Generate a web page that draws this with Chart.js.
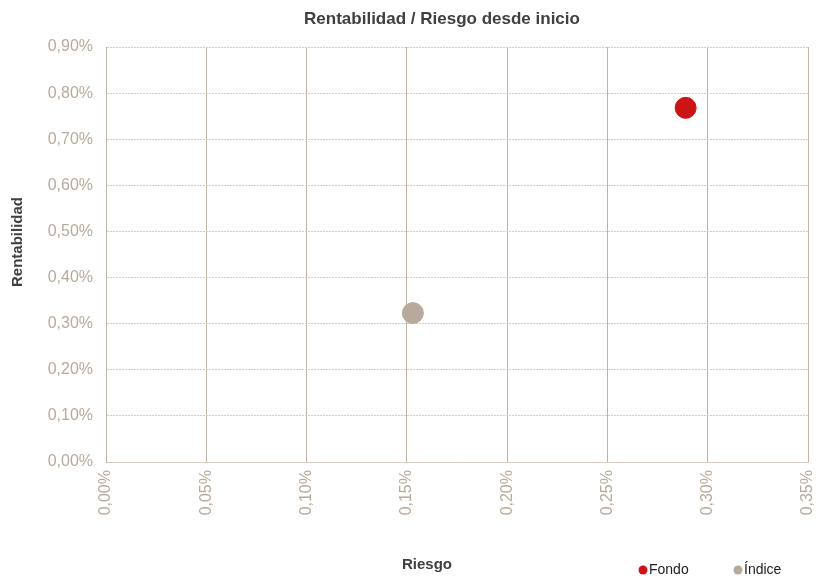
<!DOCTYPE html>
<html lang="es">
<head>
    <meta charset="UTF-8">
    <title>Rentabilidad / Riesgo desde inicio</title>
    <script src="https://cdn.jsdelivr.net/npm/chart.js"></script>
    <style>
        body {
            margin: 0;
            padding: 0;
            background: #ffffff;
        }
        .wrap {
            width: 832px;
            height: 576px;
        }
    </style>
</head>
<body>
    <div class="wrap">
        <canvas id="riskChart" width="832" height="576"></canvas>
    </div>

    <script>
        // Series (riesgo %, rentabilidad %)
        const seriesNames = ['Fondo', 'Índice'];
        const riesgo = [0.289, 0.153];
        const rentabilidad = [0.768, 0.323];
        const seriesColors = ['#cc1417', '#b8aa9a'];

        // Axis ticks
        const xTicks = [0, 0.05, 0.10, 0.15, 0.20, 0.25, 0.30, 0.35];
        const yTicks = [0, 0.10, 0.20, 0.30, 0.40, 0.50, 0.60, 0.70, 0.80, 0.90];

        const tickColor = '#b8aa9a';
        const textColor = '#404040';
        const fmt = v => v.toFixed(2).replace('.', ',') + '%';

        // Title, axis titles and legend drawn by hand to match the layout
        const labelsPlugin = {
            id: 'labels',
            afterDraw(chart) {
                const ctx = chart.ctx;
                ctx.save();
                ctx.fillStyle = textColor;
                ctx.textAlign = 'center';
                ctx.textBaseline = 'middle';
                ctx.font = 'bold 17px "Liberation Sans", Arial, sans-serif';
                ctx.fillText('Rentabilidad / Riesgo desde inicio', 442, 19);

                ctx.font = 'bold 15px "Liberation Sans", Arial, sans-serif';
                ctx.fillText('Riesgo', 427, 565);

                ctx.save();
                ctx.translate(18, 242);
                ctx.rotate(-Math.PI / 2);
                ctx.fillText('Rentabilidad', 0, 0);
                ctx.restore();

                // legend
                ctx.font = '14px "Liberation Sans", Arial, sans-serif';
                ctx.textAlign = 'left';
                const legendX = [643, 738];
                seriesNames.forEach((name, i) => {
                    ctx.fillStyle = seriesColors[i];
                    ctx.beginPath();
                    ctx.arc(legendX[i], 570, 4.5, 0, Math.PI * 2);
                    ctx.fill();
                    ctx.fillStyle = '#222';
                    ctx.fillText(name, legendX[i] + 6, 570);
                });
                ctx.restore();
            }
        };

        const ctx = document.getElementById('riskChart').getContext('2d');
        new Chart(ctx, {
            type: 'scatter',
            data: {
                datasets: seriesNames.map((name, i) => ({
                    label: name,
                    data: [{ x: riesgo[i], y: rentabilidad[i] }],
                    backgroundColor: seriesColors[i],
                    borderColor: seriesColors[i],
                    pointRadius: 10.5,
                    pointHoverRadius: 10.5
                }))
            },
            options: {
                responsive: false,
                animation: false,
                events: [],
                layout: {
                    padding: { left: 0, top: 47, right: 24, bottom: 0 }
                },
                plugins: {
                    legend: { display: false },
                    title: { display: false },
                    tooltip: { enabled: false }
                },
                scales: {
                    x: {
                        type: 'linear',
                        min: 0,
                        max: 0.35,
                        afterBuildTicks: scale => {
                            scale.ticks = xTicks.map(v => ({ value: v }));
                        },
                        afterFit: scale => {
                            scale.height = 114;
                            scale.paddingLeft = 0;
                            scale.paddingRight = 0;
                        },
                        grid: {
                            color: '#bfb4a9',
                            lineWidth: 1,
                            drawTicks: false
                        },
                        border: {
                            color: '#d6ccc2',
                            dash: []
                        },
                        ticks: {
                            color: tickColor,
                            font: { family: '"Liberation Sans", Arial, sans-serif', size: 16 },
                            maxRotation: 90,
                            minRotation: 90,
                            padding: 8,
                            callback: v => fmt(v)
                        }
                    },
                    y: {
                        type: 'linear',
                        min: 0,
                        max: 0.9,
                        afterBuildTicks: scale => {
                            scale.ticks = yTicks.map(v => ({ value: v }));
                        },
                        afterFit: scale => {
                            scale.width = 106;
                            scale.paddingTop = 0;
                            scale.paddingBottom = 0;
                        },
                        grid: {
                            color: '#d6ccc2',
                            lineWidth: 1,
                            drawTicks: false
                        },
                        border: {
                            color: '#bfb4a9',
                            dash: [2, 1]
                        },
                        ticks: {
                            color: tickColor,
                            font: { family: '"Liberation Sans", Arial, sans-serif', size: 16 },
                            padding: 13,
                            callback: v => fmt(v)
                        }
                    }
                }
            },
            plugins: [labelsPlugin]
        });
    </script>
</body>
</html>
